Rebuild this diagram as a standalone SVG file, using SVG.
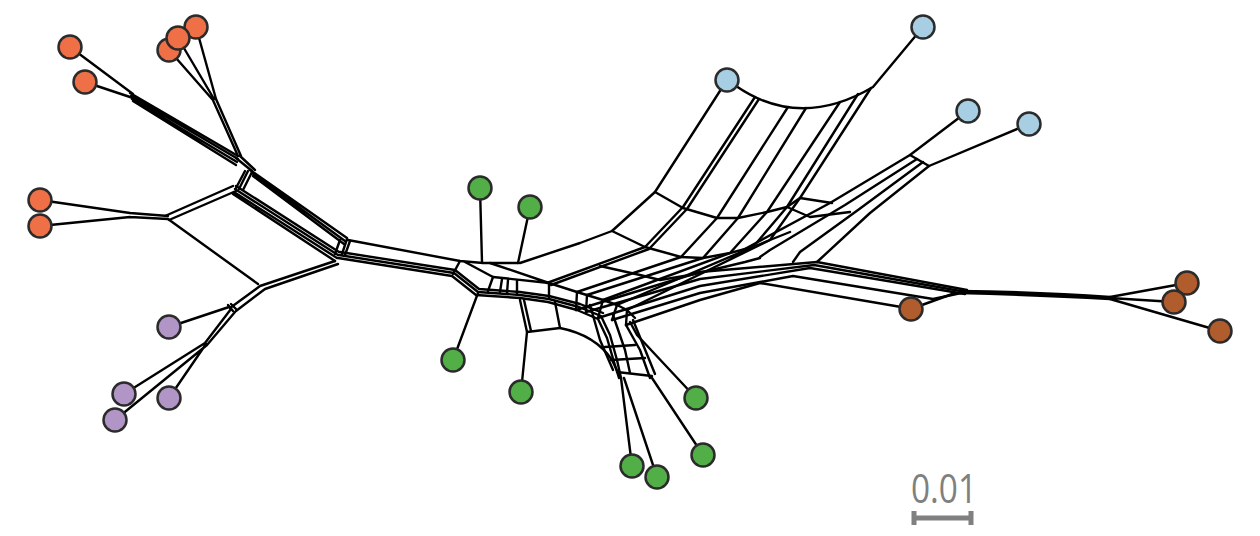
<svg xmlns="http://www.w3.org/2000/svg" width="1260" height="536" viewBox="0 0 1260 536">
<style>
.e{fill:none;stroke:#000;stroke-width:2.4;stroke-linejoin:round;stroke-linecap:round}
.n{stroke:#2b2b2b;stroke-width:2.5}
.or{fill:#ef6f47}.bl{fill:#a7cee2}.gr{fill:#52ae47}.pu{fill:#b295c7}.br{fill:#b15c2c}
.sb{fill:none;stroke:#808080;stroke-width:5}
</style>
<rect width="1260" height="536" fill="#fff"/>
<g id="connectors" class="e">
<!-- upper-left orange -->
<path d="M70,47 L133,94 M85,82 L133,98"/>
<path d="M130,93 L238,156 M131,96 L238,159 M132,99 L237,162 M133,101 L236,165"/>
<path d="M169,50 L212,99 M178,38 L214,99 M196,27 L216,99"/>
<path d="M212,98 L238,156 M216,99 L241,156"/>
<path d="M236,158 L252,171 M240,156 L255,170"/>
<path d="M245,171 L236,188 M252,172 L243,190 M248,171 L239,189"/>
<path d="M250,170 L347,238 M252,173 L345,241 M253,176 L344,244"/>
<path d="M236,186 L339,252 M235,189 L338,255 M234,192 L337,258 M233,194 L335,261"/>
<path d="M340,240 L335,254 M347,239 L342,254 M350,241 L345,255"/>
<!-- lower-left orange -->
<path d="M40,200 L130,213 M40,226 L130,217 M130,213 L168,216 M130,217 L168,219"/>
<path d="M165,216 L233,186 M169,220 L236,191 M168,219 L258,284"/>
<!-- purple -->
<path d="M335,261 L260,286 L230,308 M338,264 L265,289 L236,311"/>
<path d="M228,305 L233,311 M231,304 L236,309"/>
<path d="M169,327 L229,307"/>
<path d="M231,309 L205,343 L124,394 M235,312 L207,345 L115,420 M206,344 L169,398"/>
<!-- centre hub -->
<path d="M348,240 L460,261 L483,263 L518,263"/>
<path d="M460,261 L453,274 M465,262 L493,277 M490,263 L549,283 M493,277 L549,283"/>
<path d="M493,277 L488,291 M502,279 L500,292 M508,280 L507,293 M517,281 L517,294 M549,283 L549,297"/>
<path d="M340,252 L455,270 L479,289 L520,292 L549,296 L580,304 L603,313"/>
<path d="M339,255 L454,273 L478,292 L520,295 L549,299 L579,307 L601,316 L610,335 L617,360 L621,378"/>
<path d="M338,258 L452,276 L476,295 L520,298 L548,302 L577,310 L598,319 L607,338 L614,362 L619,378"/>
<path d="M549,283 L577,292 L603,300 L617,305 L627,310 L635,318"/>
<path d="M577,292 L576,310 M587,295 L586,312 M603,300 L598,318 M617,305 L612,320 M627,310 L626,325"/>
<!-- green stems -->
<path d="M480,188 L482,262 M530,207 L518,263 M453,360 L478,293 M521,392 L527,332"/>
<path d="M520,300 L527,332 L560,328 L555,302 M524,300 L531,331"/>
<path d="M560,328 C580,332 600,342 612,360 L620,377"/>
<!-- lower-right green grid -->
<path d="M590,305 L600,340 L613,370 M613,315 L625,350 L630,373 M626,325 L640,350 L650,378 M633,320 L655,374"/>
<path d="M605,347 L635,345 M611,360 L645,358 M617,372 L652,376"/>
<path d="M621,378 L632,466 M624,378 L657,477 M696,398 L637,335 L630,322 M703,455 L652,378"/>
<!-- blue band -->
<path d="M736,86 Q800,130 873,87 L923,27"/>
<path d="M727,80 L655,192 L612,231 L580,243 L520,263"/>
<path d="M755,97 L683,207 L645,247 L547,283 M759,99 L687,209 L649,249 L551,285"/>
<path d="M788,107 L717,218 L681,257 L577,292 M806,108 L738,218 L703,258 L587,295"/>
<path d="M840,102 L767,212 L730,253 L603,300 M858,94 L787,207 L753,247 L617,305 M871,88 L800,198 L770,240 L627,310"/>
<path d="M655,192 L683,208 L717,218 L738,218 L767,212 L787,207 L800,198 L832,203"/>
<path d="M612,231 L645,247 L681,257 L703,258 L730,253 L753,247 L770,240 L790,232"/>
<path d="M600,266 L640,275 L660,280 L690,275 L720,268 L745,262 L760,258"/>
<path d="M787,207 L810,217 L850,212"/>
<!-- B3/B4 bundle -->
<path d="M968,111 L910,155 M1029,124 L929,166 M910,155 L929,166"/>
<path d="M910,155 L830,203 L743,250 M917,159 L845,205 L770,250 L760,257 M923,162 L858,210 L800,252 L793,262 M929,166 L870,213 L817,262"/>
<!-- right band to brown -->
<path d="M626,325 L700,300 L760,283 L907,308"/>
<path d="M612,320 L700,293 L793,276 L933,299 L966,292"/>
<path d="M598,318 L700,286 L810,268 L965,294"/>
<path d="M586,312 L700,279 L814,265 L966,292"/>
<path d="M576,310 L700,272 L817,262 L967,290"/>
<path d="M911,309 L955,293"/>
<path d="M960,291 Q1040,292 1110,297 M960,293 Q1040,295 1110,299"/>
<path d="M1110,297 L1187,283 M1110,298 L1174,302 M1110,299 L1220,331"/>
</g>
<g id="orange-1"><circle class="n or" cx="70" cy="47" r="11.5"/></g>
<g id="orange-2"><circle class="n or" cx="85" cy="82" r="11.5"/></g>
<g id="orange-3"><circle class="n or" cx="169" cy="50" r="11.5"/></g>
<g id="orange-5"><circle class="n or" cx="196" cy="27" r="11.5"/></g>
<g id="orange-4"><circle class="n or" cx="178" cy="38" r="11.5"/></g>
<g id="orange-6"><circle class="n or" cx="40" cy="200" r="11.5"/></g>
<g id="orange-7"><circle class="n or" cx="40" cy="226" r="11.5"/></g>
<g id="blue-1"><circle class="n bl" cx="923" cy="27" r="11.5"/></g>
<g id="blue-2"><circle class="n bl" cx="727" cy="80" r="11.5"/></g>
<g id="blue-3"><circle class="n bl" cx="968" cy="111" r="11.5"/></g>
<g id="blue-4"><circle class="n bl" cx="1029" cy="124" r="11.5"/></g>
<g id="green-1"><circle class="n gr" cx="480" cy="188" r="11.5"/></g>
<g id="green-2"><circle class="n gr" cx="530" cy="207" r="11.5"/></g>
<g id="green-3"><circle class="n gr" cx="453" cy="360" r="11.5"/></g>
<g id="green-4"><circle class="n gr" cx="521" cy="392" r="11.5"/></g>
<g id="green-5"><circle class="n gr" cx="696" cy="398" r="11.5"/></g>
<g id="green-6"><circle class="n gr" cx="703" cy="455" r="11.5"/></g>
<g id="green-7"><circle class="n gr" cx="632" cy="466" r="11.5"/></g>
<g id="green-8"><circle class="n gr" cx="657" cy="477" r="11.5"/></g>
<g id="purple-1"><circle class="n pu" cx="169" cy="327" r="11.5"/></g>
<g id="purple-2"><circle class="n pu" cx="124" cy="394" r="11.5"/></g>
<g id="purple-3"><circle class="n pu" cx="169" cy="398" r="11.5"/></g>
<g id="purple-4"><circle class="n pu" cx="115" cy="420" r="11.5"/></g>
<g id="brown-1"><circle class="n br" cx="1187" cy="283" r="11.5"/></g>
<g id="brown-2"><circle class="n br" cx="1174" cy="302" r="11.5"/></g>
<g id="brown-3"><circle class="n br" cx="911" cy="309" r="11.5"/></g>
<g id="brown-4"><circle class="n br" cx="1220" cy="331" r="11.5"/></g>
<g id="scale-bar">
<path class="sb" d="M912,518 H973 M914,511 V525 M971,511 V525"/>
<text x="944" y="503" text-anchor="middle" font-family="Open Sans, Liberation Sans, sans-serif" font-size="40" fill="#808080" textLength="66" lengthAdjust="spacingAndGlyphs">0.01</text>
</g>
</svg>
